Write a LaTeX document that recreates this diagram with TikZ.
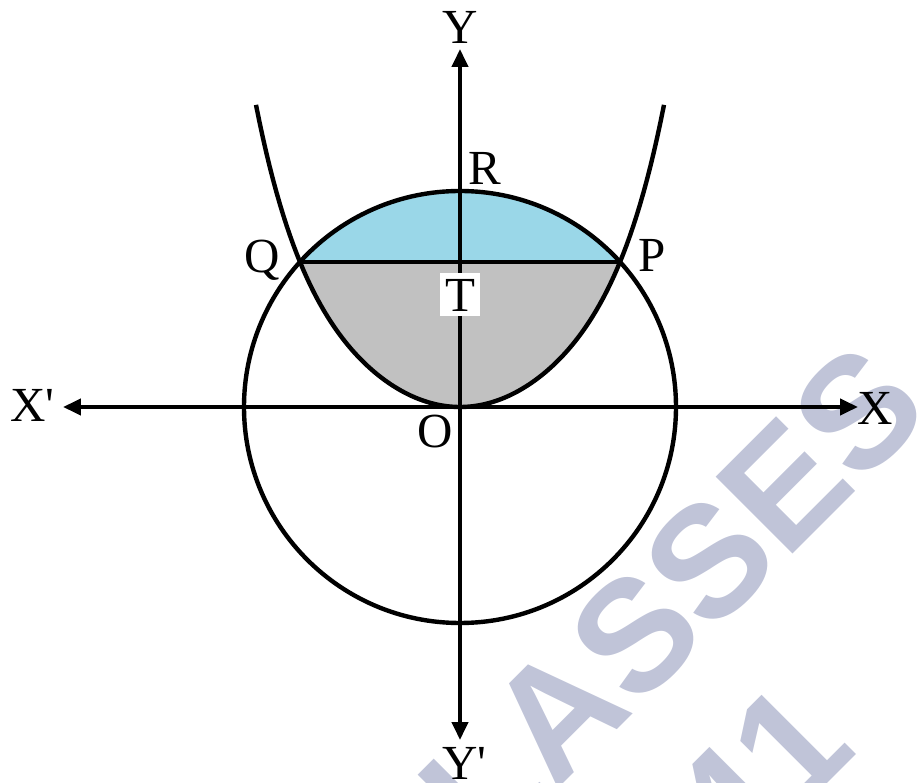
\documentclass[tikz,border=0pt]{standalone}
\usepackage{fontspec}
\setmainfont{Liberation Serif}
\newfontfamily\wmfont{Liberation Sans}
\usetikzlibrary{arrows.meta}
\definecolor{wmcol}{RGB}{192,196,216}
\definecolor{capblue}{RGB}{154,215,232}
\definecolor{capgrey}{RGB}{193,193,193}
\begin{document}
\begin{tikzpicture}[x=1pt,y=1pt,line width=4.4pt,
  lbl/.style={inner sep=0pt,font=\fontsize{49}{55}\selectfont},
  wm/.style={inner sep=0pt,text=wmcol,font=\wmfont\bfseries\fontsize{158}{158}\selectfont},
  axisarrow/.style={line width=4pt,{Triangle[length=18pt,width=16pt]}-{Triangle[length=18pt,width=16pt]}},
  declare function={pf(\t)=46.93*pow(\t/100,2)+1.482*pow(\t/100,6);}]
\useasboundingbox (-460,-376) rectangle (460,407);
% watermark
\begin{scope}
  \clip (-460,-376) rectangle (460,407);
  \node[wm,rotate=45] (wmA) at (172,-231) {CLASSES};
  \node[wm,rotate=45,anchor=base] (wmB) at (338,-406) {41};
\end{scope}
% key points
\coordinate (O) at (0,0);
\coordinate (P) at (160,145);
\coordinate (Q) at (-160,145);
\coordinate (Tp) at (0,145);
\coordinate (ytop) at (0,358);
\coordinate (ybot) at (0,-333);
\coordinate (xleft) at (-397,0);
\coordinate (xright) at (398,0);
% grey region between parabola and chord
\fill[capgrey] plot[domain=-160:160,samples=81] (\x,{pf(\x)}) -- cycle;
% blue cap of circle above chord
\fill[capblue] (P) arc[start angle=42.18,end angle=137.82,radius=216] -- cycle;
% curves
\draw (O) circle[radius=216];
\draw[line join=round] plot[domain=-204:204,samples=121] (\x,{pf(\x)});
\draw (Q) -- (P);
% axes
\draw[axisarrow] (ybot) -- (ytop);
\draw[axisarrow] (xleft) -- (xright);
% labels
\node[lbl] (lY) at (0,380) {Y};
\node[lbl] (lYp) at (4.5,-356) {Y\textquotesingle};
\node[lbl] (lXp) at (-427.5,2) {X\textquotesingle};
\node[lbl] (lX) at (415,-1) {X};
\node[lbl] (lR) at (25,239) {R};
\node[lbl] (lQ) at (-198,147) {Q};
\node[lbl] (lP) at (192,152) {P};
\node[lbl,fill=white,minimum width=40pt,minimum height=43pt] (lT) at (0,112) {T};
\node[lbl] (lO) at (-25,-25) {O};
\end{tikzpicture}
\end{document}
